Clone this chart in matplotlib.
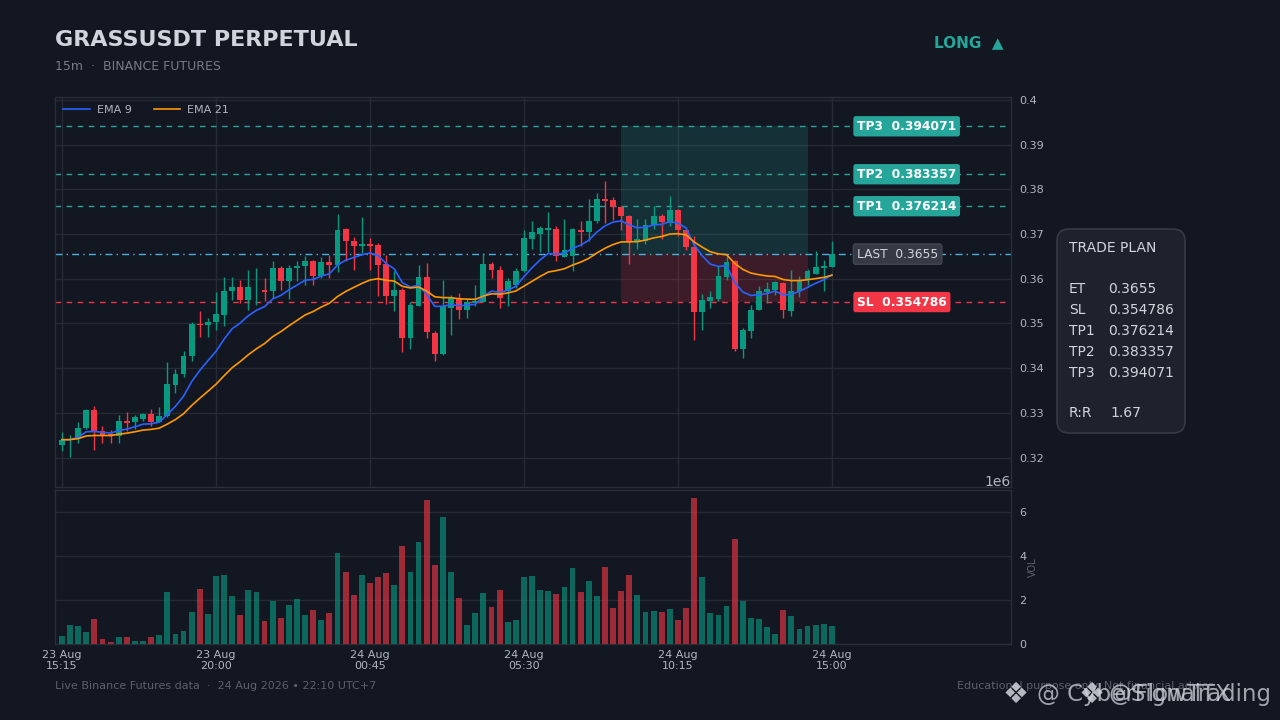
import numpy as np
import pandas as pd
import matplotlib
matplotlib.use("Agg")
import matplotlib.pyplot as plt
from matplotlib.patches import FancyBboxPatch, Rectangle
from matplotlib.ticker import FuncFormatter, MultipleLocator

# ---------------- data ----------------
opens = [0.32291, 0.32391, 0.32454, 0.32655, 0.33073, 0.32588, 0.32530, 0.32476, 0.32820, 0.32789,
         0.32872, 0.32983, 0.32798, 0.32923, 0.33632, 0.33877, 0.34264, 0.34995, 0.34973, 0.35033,
         0.35196, 0.35717, 0.35822, 0.35531, 0.35761, 0.35755, 0.35717, 0.36240, 0.35940, 0.36231,
         0.36276, 0.36403, 0.36068, 0.36365, 0.36314, 0.37118, 0.36850, 0.36738, 0.36776, 0.36761,
         0.36329, 0.35621, 0.35739, 0.34666, 0.35397, 0.36039, 0.34787, 0.34324, 0.35346, 0.35569,
         0.35292, 0.35464, 0.35471, 0.36336, 0.36202, 0.35717, 0.35867, 0.36164, 0.36888, 0.37006,
         0.37096, 0.37111, 0.36486, 0.36515, 0.37096, 0.37036, 0.37281, 0.37782, 0.37766, 0.37603,
         0.37409, 0.36812, 0.36839, 0.37208, 0.37409, 0.37246, 0.37527, 0.37096, 0.36709, 0.35248,
         0.35493, 0.35547, 0.36039, 0.36387, 0.34429, 0.34823, 0.35292, 0.35694, 0.35755, 0.35905,
         0.35270, 0.35717, 0.35963, 0.36112, 0.36231, 0.36262]
closes = [0.32402, 0.32413, 0.32670, 0.33073, 0.32603, 0.32498, 0.32476, 0.32827, 0.32776, 0.32901,
          0.32983, 0.32789, 0.32939, 0.33654, 0.33877, 0.34280, 0.34995, 0.34957, 0.35033, 0.35212,
          0.35732, 0.35822, 0.35531, 0.35822, 0.35777, 0.35703, 0.36240, 0.35940, 0.36240, 0.36291,
          0.36403, 0.36052, 0.36365, 0.36307, 0.37096, 0.36834, 0.36723, 0.36776, 0.36738, 0.36298,
          0.35621, 0.35755, 0.34666, 0.35420, 0.36039, 0.34800, 0.34324, 0.35397, 0.35569, 0.35292,
          0.35471, 0.35493, 0.36336, 0.36186, 0.35569, 0.35940, 0.36179, 0.36910, 0.37036, 0.37134,
          0.37134, 0.36499, 0.36649, 0.37111, 0.37036, 0.37297, 0.37782, 0.37728, 0.37603, 0.37409,
          0.36834, 0.36888, 0.37196, 0.37409, 0.37259, 0.37543, 0.37096, 0.36709, 0.35248, 0.35531,
          0.35583, 0.36068, 0.36365, 0.34429, 0.34845, 0.35308, 0.35717, 0.35777, 0.35934, 0.35292,
          0.35717, 0.35978, 0.36164, 0.36262, 0.36291, 0.36550]
highs = [0.32565, 0.32514, 0.32789, 0.33088, 0.33147, 0.32700, 0.32610, 0.32961, 0.33012, 0.32961,
         0.32999, 0.33088, 0.33133, 0.34130, 0.33982, 0.34376, 0.35024, 0.35270, 0.35122, 0.35703,
         0.36030, 0.36030, 0.35978, 0.36202, 0.36240, 0.36016, 0.36387, 0.36276, 0.36314, 0.36387,
         0.36499, 0.36425, 0.36486, 0.36537, 0.37453, 0.37134, 0.36933, 0.37380, 0.36910, 0.36799,
         0.36537, 0.36164, 0.35793, 0.35471, 0.36298, 0.36351, 0.34823, 0.35978, 0.35643, 0.35681,
         0.35547, 0.35867, 0.36575, 0.36365, 0.36276, 0.36016, 0.36240, 0.37080, 0.37281, 0.37185,
         0.37483, 0.37170, 0.37335, 0.37134, 0.37281, 0.37782, 0.37916, 0.38175, 0.37827, 0.37617,
         0.37431, 0.37335, 0.37346, 0.37632, 0.37453, 0.37856, 0.37558, 0.37111, 0.36946, 0.35665,
         0.35717, 0.36291, 0.36515, 0.36425, 0.34899, 0.35420, 0.35844, 0.35918, 0.35940, 0.35918,
         0.36202, 0.36052, 0.36217, 0.36611, 0.36425, 0.36834]
lows = [0.32141, 0.32022, 0.32329, 0.32641, 0.32179, 0.32329, 0.32329, 0.32329, 0.32588, 0.32641,
        0.32811, 0.32700, 0.32789, 0.32910, 0.33446, 0.33804, 0.34152, 0.34689, 0.34698, 0.34861,
        0.34935, 0.35531, 0.35458, 0.35308, 0.35420, 0.35493, 0.35569, 0.35755, 0.35547, 0.35940,
        0.35867, 0.35867, 0.36016, 0.36016, 0.36141, 0.36387, 0.36186, 0.36575, 0.36186, 0.35605,
        0.35442, 0.35270, 0.34362, 0.34436, 0.35397, 0.34675, 0.34152, 0.34302, 0.34749, 0.35100,
        0.35122, 0.35397, 0.35471, 0.36016, 0.35346, 0.35397, 0.35793, 0.36141, 0.36664, 0.36589,
        0.36589, 0.36387, 0.36486, 0.36164, 0.36738, 0.36834, 0.37246, 0.37246, 0.37319, 0.37096,
        0.36336, 0.36664, 0.36783, 0.37111, 0.36888, 0.37185, 0.36946, 0.36649, 0.34637, 0.34861,
        0.35346, 0.35493, 0.35963, 0.34376, 0.34228, 0.34675, 0.35292, 0.35458, 0.35643, 0.35122,
        0.35158, 0.35592, 0.35867, 0.36112, 0.35717, 0.36262]
volumes_m = [0.36, 0.86, 0.82, 0.55, 1.14, 0.23, 0.09, 0.32, 0.32, 0.14,
             0.14, 0.32, 0.41, 2.36, 0.45, 0.59, 1.45, 2.50, 1.36, 3.09,
             3.14, 2.18, 1.32, 2.45, 2.36, 1.05, 1.95, 1.18, 1.77, 2.05,
             1.32, 1.55, 1.09, 1.41, 4.14, 3.27, 2.23, 3.14, 2.77, 3.05,
             3.23, 2.68, 4.45, 3.27, 4.64, 6.55, 3.59, 5.77, 3.27, 2.09,
             0.86, 1.41, 2.32, 1.68, 2.45, 1.00, 1.09, 3.05, 3.09, 2.45,
             2.41, 2.27, 2.59, 3.45, 2.36, 2.86, 2.18, 3.50, 1.64, 2.41,
             3.14, 2.23, 1.45, 1.50, 1.45, 1.59, 1.09, 1.64, 6.64, 3.05,
             1.41, 1.32, 1.73, 4.77, 1.95, 1.18, 1.14, 0.77, 0.45, 1.55,
             1.27, 0.68, 0.82, 0.86, 0.91, 0.82]

tick_idx = [0, 19, 38, 57, 76, 95]
tick_labels = ["23 Aug\n15:15", "23 Aug\n20:00", "24 Aug\n00:45",
               "24 Aug\n05:30", "24 Aug\n10:15", "24 Aug\n15:00"]

entry = 0.3655
stop = 0.354786
tp_levels = [0.376214, 0.383357, 0.394071]
tp_names = ["TP1", "TP2", "TP3"]
rr = 1.67
zone_start, zone_end = 69, 92

# ---------------- styling ----------------
BG = "#131722"
GRID = "#262a35"
SPINE = "#2a2e39"
TXT = "#d1d4dc"
MUTED = "#787b86"
UP = "#089981"
DOWN = "#f23645"
TEAL = "#26a69a"

o = np.array(opens); c = np.array(closes); h = np.array(highs); l = np.array(lows)
vol = np.array(volumes_m) * 1e6
x = np.arange(len(o))
up = c >= o
cols = np.where(up, UP, DOWN)
ema9 = pd.Series(c).ewm(span=9, adjust=False).mean()
ema21 = pd.Series(c).ewm(span=21, adjust=False).mean()

W, H = 1280, 720
fig = plt.figure(figsize=(12.8, 7.2), dpi=100, facecolor=BG)

def fx(px):
    return px / W

def fy(py):
    return 1 - py / H

ax = fig.add_axes([fx(55), fy(487), fx(1011) - fx(55), fy(97) - fy(487)], facecolor=BG)
axv = fig.add_axes([fx(55), fy(644), fx(1011) - fx(55), fy(490) - fy(644)], facecolor=BG, sharex=ax)

for a in (ax, axv):
    for s in a.spines.values():
        s.set_color(SPINE)
        s.set_linewidth(1)
    a.yaxis.tick_right()
    a.tick_params(axis="both", length=0, colors="#b2b5be", labelsize=8, pad=6)

# candles
ax.vlines(x, l, h, colors=cols, linewidth=1, zorder=3)
body = np.maximum(np.abs(c - o), 0.00012)
ax.bar(x, body, bottom=np.minimum(o, c), width=0.72, color=cols, zorder=4, linewidth=0)

# EMAs
ax.plot(x, ema9, color="#2962ff", lw=1.2, label="EMA 9", zorder=5)
ax.plot(x, ema21, color="#ff9800", lw=1.2, label="EMA 21", zorder=5)

# zones
ax.add_patch(Rectangle((zone_start, entry), zone_end - zone_start, tp_levels[2] - entry,
                       facecolor=TEAL, alpha=0.18, edgecolor="none", zorder=1))
ax.add_patch(Rectangle((zone_start, stop), zone_end - zone_start, entry - stop,
                       facecolor=DOWN, alpha=0.18, edgecolor="none", zorder=1))

# level lines
for lvl in tp_levels:
    ax.axhline(lvl, color=TEAL, lw=1, ls=(0, (4, 4)), zorder=2)
ax.axhline(entry, color="#4fc3f7", lw=1, ls=(0, (5, 3, 1, 3)), alpha=0.9, zorder=2)
ax.axhline(stop, color=DOWN, lw=1, ls=(0, (4, 4)), zorder=2)

lab_x = 98.1
for name, lvl in zip(tp_names, tp_levels):
    ax.text(lab_x, lvl, f"{name}  {lvl:.6f}", color="white", fontsize=8.8, fontweight="bold",
            va="center", ha="left", zorder=7,
            bbox=dict(boxstyle="round,pad=0.3,rounding_size=0.2", facecolor=TEAL, edgecolor="none"))
ax.text(lab_x, entry, f"LAST  {entry:.4f}", color=TXT, fontsize=8.8, va="center", ha="left", zorder=7,
        bbox=dict(boxstyle="round,pad=0.3,rounding_size=0.2", facecolor="#363a45", edgecolor="#434651"))
ax.text(lab_x, stop, f"SL  {stop:.6f}", color="white", fontsize=8.8, fontweight="bold",
        va="center", ha="left", zorder=7,
        bbox=dict(boxstyle="round,pad=0.3,rounding_size=0.2", facecolor=DOWN, edgecolor="none"))

# axes scaling
ax.set_xlim(-0.86, 117.1)
ax.set_ylim(0.31345, 0.40062)
ax.yaxis.set_major_locator(MultipleLocator(0.01))
ax.yaxis.set_major_formatter(FuncFormatter(lambda v, p: f"{v:g}"))
ax.grid(True, color=GRID, lw=1, zorder=0)
ax.set_axisbelow(True)
ax.tick_params(axis="x", labelbottom=False)
leg = ax.legend(loc="upper left", frameon=False, fontsize=8, labelcolor="#b2b5be",
                ncol=2, handlelength=2.4, handletextpad=0.6, columnspacing=2.0,
                borderaxespad=0.25, borderpad=0.5)

# volume
vcols = np.where(up, UP, DOWN)
axv.bar(x, vol, width=0.72, color=vcols, alpha=0.62, linewidth=0, zorder=3)
axv.set_ylim(0, 7.0e6)
axv.yaxis.set_major_locator(MultipleLocator(2e6))
axv.grid(True, axis="y", color=GRID, lw=1, zorder=0)
axv.set_axisbelow(True)
axv.set_xticks(tick_idx)
axv.set_xticklabels(tick_labels)
axv.tick_params(axis="x", pad=4)
axv.yaxis.get_offset_text().set_color("#b2b5be")
axv.yaxis.get_offset_text().set_fontsize(10)
axv.set_ylabel("VOL", color="#5d606b", fontsize=7, labelpad=1)
axv.yaxis.set_label_position("right")

# header
fig.text(fx(55), fy(40), "GRASSUSDT PERPETUAL", color=TXT, fontsize=16, fontweight="bold", va="center")
fig.text(fx(55), fy(66), "15m  ·  BINANCE FUTURES", color=MUTED, fontsize=9, va="center")
fig.text(fx(1004), fy(43), "LONG  ▲", color=TEAL, fontsize=11, fontweight="bold", va="center", ha="right")

# trade plan box
box = FancyBboxPatch((10.57, 2.87), 1.28, 2.04, boxstyle="round,pad=0,rounding_size=0.12",
                     transform=fig.dpi_scale_trans, facecolor="#1e222d", edgecolor="#363a45", lw=1.2)
fig.patches.append(box)
fig.text(fx(1069), fy(248), "TRADE PLAN", color=TXT, fontsize=10, va="center")
plan_rows = [("ET", f"{entry:.4f}", 289), ("SL", f"{stop:.6f}", 310),
             ("TP1", f"{tp_levels[0]:.6f}", 331), ("TP2", f"{tp_levels[1]:.6f}", 352),
             ("TP3", f"{tp_levels[2]:.6f}", 373), ("R:R", f"{rr:.2f}", 413)]
for lab, val, py in plan_rows:
    fig.text(fx(1069), fy(py), lab, color=TXT, fontsize=10, va="center")
    fig.text(fx(1108 if lab != "R:R" else 1110), fy(py), val, color=TXT, fontsize=10, va="center")

# footer
fig.text(fx(55), fy(686), "Live Binance Futures data  ·  24 Aug 2026 • 22:10 UTC+7",
         color="#5d606b", fontsize=8, va="center")
fig.text(fx(1218), fy(686), "Educational purpose only. Not financial advice.",
         color="#5d606b", fontsize=8, va="center", ha="right")

# watermarks (overlapping, as in the reference)
fig.text(fx(1003), fy(695), "❖", color="#d1d4dc", alpha=0.85, fontsize=21, va="center")
fig.text(fx(1037), fy(694), "@ CyberFlowTrading", color="#d1d4dc", alpha=0.75, fontsize=16.5, va="center")
fig.text(fx(1079), fy(695), "❖", color="#d1d4dc", alpha=0.85, fontsize=21, va="center")
fig.text(fx(1108), fy(694), "@SignalTX", color="#d1d4dc", alpha=0.75, fontsize=16.5, va="center")

fig.savefig("out.png", dpi=100, facecolor=BG)
